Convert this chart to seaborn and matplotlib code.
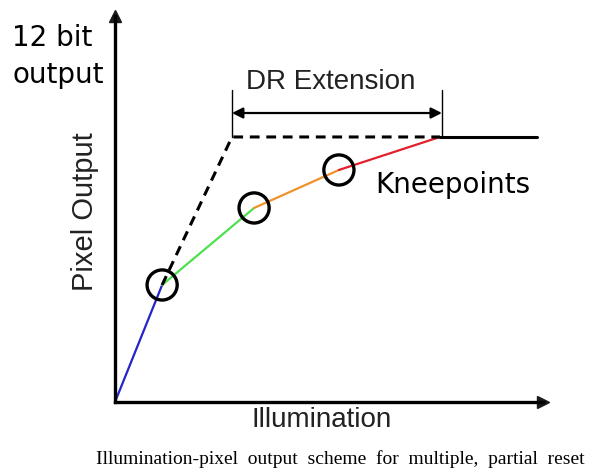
import matplotlib
matplotlib.use("Agg")
import matplotlib.pyplot as plt
import seaborn as sns
import pandas as pd
import numpy as np

# ---- data (illumination in arbitrary units, output in 12-bit DN) ----
response_illum = [0.0, 1.45, 4.28, 6.89, 10.0]
response_output = [0, 1808, 2998, 3585, 4095]
segment_names = ["seg1", "seg2", "seg3", "seg4"]
segment_colors = ["#2424c8", "#4ee04e", "#f0922c", "#e2202c"]
knee_illum = [1.45, 4.28, 6.89]
knee_output = [1808, 2998, 3585]
ideal_illum = [1.45, 3.6, 10.0]
ideal_output = [1808, 4095, 4095]
sat_illum = [10.0, 13.0]
sat_output = [4095, 4095]
dr_start, dr_end = 3.6, 10.06
dr_level = 4465
dr_tick_top = 4821
x_max, y_max = 13.17, 5964

sns.set_theme(style="white")
plt.rcParams["font.family"] = ["DejaVu Sans"]

W, H = 593, 471
fig = plt.figure(figsize=(W / 100, H / 100), dpi=100)
ox, oy = 115, 402
ax = fig.add_axes([ox / W, (H - oy) / H, (543 - ox) / W, (oy - 16) / H])
ax.set_xlim(0, x_max)
ax.set_ylim(0, y_max)
ax.patch.set_alpha(0)

rows = []
for i, name in enumerate(segment_names):
    rows.append((name, response_illum[i], response_output[i]))
    rows.append((name, response_illum[i + 1], response_output[i + 1]))
df = pd.DataFrame(rows, columns=["segment", "illum", "output"])
sns.lineplot(data=df, x="illum", y="output", hue="segment",
             palette=dict(zip(segment_names, segment_colors)),
             estimator=None, sort=False, lw=1.6, legend=False, ax=ax)

ideal = pd.DataFrame({"illum": ideal_illum, "output": ideal_output})
sns.lineplot(data=ideal, x="illum", y="output", estimator=None, sort=False,
             color="black", lw=2.2, ax=ax)
ax.lines[-1].set_dashes([3.2, 2.2])

sat = pd.DataFrame({"illum": sat_illum, "output": sat_output})
sns.lineplot(data=sat, x="illum", y="output", estimator=None, sort=False,
             color="black", lw=2.2, ax=ax)

knees = pd.DataFrame({"illum": knee_illum, "output": knee_output})
sns.scatterplot(data=knees, x="illum", y="output", marker="o", s=470,
                facecolors="none", edgecolor="black", linewidth=2.4, ax=ax, zorder=5)

# DR extension bracket
for xv in (dr_start, dr_end):
    ax.plot([xv, xv], [ideal_output[-1], dr_tick_top], color="black", lw=1.0)
ax.annotate("", xy=(dr_start, dr_level), xytext=(dr_end, dr_level),
            arrowprops=dict(arrowstyle="<|-|>", color="black", lw=1.6,
                            mutation_scale=16, shrinkA=0, shrinkB=0))

# axes with arrows
sns.despine(ax=ax, top=True, right=True)
for s in ("left", "bottom"):
    ax.spines[s].set_linewidth(2.4)
    ax.spines[s].set_color("black")
ax.plot(1, 0, ">k", ms=9, transform=ax.transAxes, clip_on=False)
ax.plot(0, 1, "^k", ms=9, transform=ax.transAxes, clip_on=False)
ax.set_xticks([])
ax.set_yticks([])
ax.set_xlabel("")
ax.set_ylabel("")

def P(x, y):
    return x / W, 1 - y / H

fig.text(*P(12, 38), "12 bit", fontsize=20, va="center", ha="left", color="black")
fig.text(*P(12, 75), "output", fontsize=20, va="center", ha="left", color="black")
fig.text(*P(375, 185), "Kneepoints", fontsize=20, va="center", ha="left", color="black")
fig.text(*P(331, 82), "DR Extension", fontsize=20, va="center", ha="center",
         family="Liberation Sans", color="#222222")
fig.text(*P(85, 212), "Pixel Output", fontsize=21, va="center", ha="center",
         rotation=90, family="Liberation Sans", color="#222222")
fig.text(*P(322, 420), "Illumination", fontsize=20, va="center", ha="center",
         family="Liberation Sans", color="#222222")
fig.text(*P(340, 459), "Illumination-pixel  output  scheme  for  multiple,  partial  reset",
         fontsize=14, va="center", ha="center", family="Liberation Serif", color="black")

fig.savefig("out.png", dpi=100)
